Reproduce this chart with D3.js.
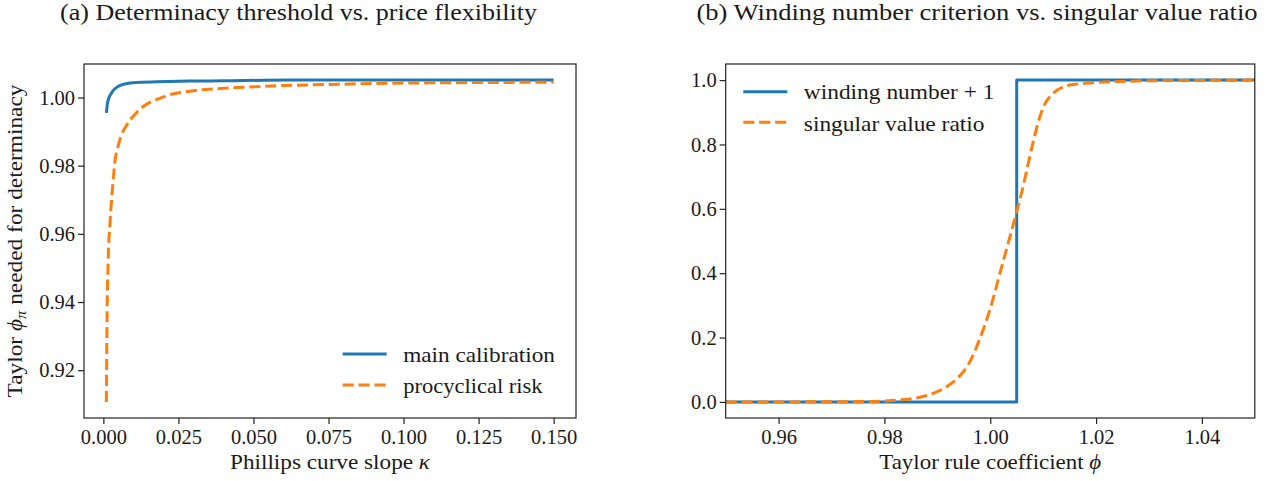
<!DOCTYPE html>
<html><head><meta charset="utf-8">
<script src="https://cdn.jsdelivr.net/npm/d3@7"></script>
<style>
body{margin:0;background:#fff}
svg{display:block}
</style>
</head><body>
<svg id="c" width="1275" height="481"></svg>
<script>
// ---------------- data ----------------
// Panel (a): determinacy threshold vs Phillips curve slope
const kappaMain = [0.001, 0.00135, 0.0018, 0.0023, 0.0033, 0.005, 0.0078, 0.0122, 0.0178, 0.029, 0.04, 0.062, 0.09, 0.12, 0.15];
const mainCalibration = [0.9955, 0.9982, 0.9998, 1.0007, 1.0021, 1.0033, 1.0041, 1.0045, 1.0046, 1.0048, 1.0049, 1.0051, 1.0051, 1.0051, 1.0051];
const kappaProc = [0.001, 0.0012, 0.0016, 0.0022, 0.0031, 0.0039, 0.005, 0.006, 0.0075, 0.009, 0.011, 0.0135, 0.016, 0.019, 0.022, 0.026, 0.03, 0.035, 0.045, 0.06, 0.075, 0.09, 0.11, 0.13, 0.15];
const procyclicalRisk = [0.9107, 0.933, 0.952, 0.963, 0.974, 0.9815, 0.986, 0.989, 0.9915, 0.9935, 0.9955, 0.9975, 0.9988, 0.9998, 1.0008, 1.0015, 1.0020, 1.0024, 1.0029, 1.0035, 1.0038, 1.0041, 1.0043, 1.0044, 1.0045];
const ticksAX = [0, 0.025, 0.05, 0.075, 0.1, 0.125, 0.15];
const ticksAY = [0.92, 0.94, 0.96, 0.98, 1.00];

// Panel (b): winding number criterion vs singular value ratio
const phiStep = [0.95, 1.005, 1.005, 1.05];
const windingPlusOne = [0, 0, 1, 1];
const phiGrid = [0.95, 0.96, 0.97, 0.975, 0.98, 0.983, 0.986, 0.988, 0.990, 0.992, 0.994, 0.996, 0.998, 1.000, 1.002, 1.004, 1.006, 1.008, 1.009, 1.010, 1.012, 1.014, 1.016, 1.018, 1.020, 1.025, 1.030, 1.040, 1.050];
const singularValueRatio = [0, 0, 0.0005, 0.001, 0.003, 0.006, 0.012, 0.02, 0.032, 0.05, 0.077, 0.12, 0.195, 0.29, 0.41, 0.53, 0.655, 0.8, 0.865, 0.915, 0.96, 0.98, 0.987, 0.99, 0.993, 0.996, 0.998, 0.999, 1.0];
const xlimB = [0.95, 1.05];
const ticksBX = [0.96, 0.98, 1.00, 1.02, 1.04];
const ticksBY = [0.0, 0.2, 0.4, 0.6, 0.8, 1.0];

const titles = ["(a) Determinacy threshold vs. price flexibility", "(b) Winding number criterion vs. singular value ratio"];
const legendA = ["main calibration", "procyclical risk"];
const legendB = ["winding number + 1", "singular value ratio"];

// ---------------- style ----------------
const BLUE = "#1f77b4", ORANGE = "#ff7f0e";
const DASH = "11.1,4.8";
const LW = 3;
const FONT = '"Liberation Serif", "Times New Roman", serif';
const INK = "#1a1a1a";

const svg = d3.select("#c").style("font-family", FONT);

function pad(ext) { const r = ext[1] - ext[0]; return [ext[0] - 0.05 * r, ext[1] + 0.05 * r]; }

function fitText(sel, w) { sel.attr("textLength", w).attr("lengthAdjust", "spacingAndGlyphs"); }

function txt(parent, size) {
  return parent.append("text").style("font-family", FONT).attr("font-size", size).attr("fill", INK);
}

function panel(box, xDom, yDom, xt, yt, xf, yf) {
  const x = d3.scaleLinear().domain(xDom).range([box.l, box.r]);
  const y = d3.scaleLinear().domain(yDom).range([box.b, box.t]);
  const g = svg.append("g");
  const ax = g.append("g").attr("transform", `translate(0,${box.b})`)
    .call(d3.axisBottom(x).tickValues(xt).tickFormat(xf).tickSize(6).tickPadding(5));
  const ay = g.append("g").attr("transform", `translate(${box.l},0)`)
    .call(d3.axisLeft(y).tickValues(yt).tickFormat(yf).tickSize(6).tickPadding(3));
  [ax, ay].forEach(a => {
    a.attr("font-family", null).attr("font-size", null);
    a.select(".domain").remove();
    a.selectAll(".tick line").attr("stroke", "#222").attr("stroke-width", 1.2);
    a.selectAll(".tick text").style("font-family", FONT).attr("font-size", 20.5).attr("fill", INK);
  });
  const clipId = "clip" + Math.round(box.l);
  svg.append("clipPath").attr("id", clipId).append("rect")
    .attr("x", box.l).attr("y", box.t).attr("width", box.r - box.l).attr("height", box.b - box.t);
  const plot = g.append("g").attr("clip-path", `url(#${clipId})`);
  g.append("rect").attr("x", box.l).attr("y", box.t).attr("width", box.r - box.l).attr("height", box.b - box.t)
    .attr("fill", "none").attr("stroke", "#222").attr("stroke-width", 1.2);
  return {x, y, g, plot};
}

function drawLine(plot, x, y, xs, ys, color, dash, curve) {
  const pts = xs.map((v, i) => [v, ys[i]]);
  plot.append("path").datum(pts)
    .attr("d", d3.line().x(d => x(d[0])).y(d => y(d[1])).curve(curve))
    .attr("fill", "none").attr("stroke", color).attr("stroke-width", LW)
    .attr("stroke-dasharray", dash).attr("stroke-linejoin", "round");
}

function legend(g, x0, entries) {
  entries.forEach(e => {
    g.append("line").attr("x1", x0).attr("x2", x0 + 44).attr("y1", e.ly).attr("y2", e.ly)
      .attr("stroke", e.color).attr("stroke-width", LW).attr("stroke-dasharray", e.dash);
    const t = txt(g, 21).attr("x", x0 + 60.5).attr("y", e.ty).text(e.label);
    fitText(t, e.w);
  });
}

// ---------------- panel (a) ----------------
const boxA = {l: 84, r: 576, t: 64, b: 418};
const pA = panel(boxA,
  pad(d3.extent(kappaMain.concat(kappaProc))),
  pad(d3.extent(mainCalibration.concat(procyclicalRisk))),
  ticksAX, ticksAY, d3.format(".3f"), d3.format(".2f"));
drawLine(pA.plot, pA.x, pA.y, kappaMain, mainCalibration, BLUE, null, d3.curveMonotoneX);
drawLine(pA.plot, pA.x, pA.y, kappaProc, procyclicalRisk, ORANGE, DASH, d3.curveMonotoneX);
legend(pA.g, 342.7, [
  {label: legendA[0], color: BLUE, dash: null, ly: 354, ty: 361.7, w: 151.7},
  {label: legendA[1], color: ORANGE, dash: DASH, ly: 385, ty: 393.3, w: 139.4}
]);
// axis labels
const xlA = txt(pA.g, 21).attr("x", (boxA.l + boxA.r) / 2).attr("y", 469.3).attr("text-anchor", "middle");
xlA.append("tspan").text("Phillips curve slope ");
xlA.append("tspan").attr("font-style", "italic").text("κ");
fitText(xlA, 200);
const ylA = txt(pA.g, 21).attr("transform", `translate(22,${(boxA.t + boxA.b) / 2}) rotate(-90)`)
  .attr("text-anchor", "middle");
ylA.append("tspan").text("Taylor ");
ylA.append("tspan").attr("font-style", "italic").text("ϕ");
ylA.append("tspan").attr("font-style", "italic").attr("font-size", 15).attr("dy", 4).text("π");
ylA.append("tspan").attr("dy", -4).text(" needed for determinacy");
fitText(ylA, 313);

// ---------------- panel (b) ----------------
const boxB = {l: 725.7, r: 1254.8, t: 64, b: 418};
const pB = panel(boxB, xlimB,
  pad(d3.extent(windingPlusOne.concat(singularValueRatio))),
  ticksBX, ticksBY, d3.format(".2f"), d3.format(".1f"));
drawLine(pB.plot, pB.x, pB.y, phiStep, windingPlusOne, BLUE, null, d3.curveLinear);
drawLine(pB.plot, pB.x, pB.y, phiGrid, singularValueRatio, ORANGE, DASH, d3.curveMonotoneX);
legend(pB.g, 743.3, [
  {label: legendB[0], color: BLUE, dash: null, ly: 91.7, ty: 99.3, w: 190.7},
  {label: legendB[1], color: ORANGE, dash: DASH, ly: 122.3, ty: 130.7, w: 180.7}
]);
const xlB = txt(pB.g, 21).attr("x", (boxB.l + boxB.r) / 2).attr("y", 469.3).attr("text-anchor", "middle");
xlB.append("tspan").text("Taylor rule coefficient ");
xlB.append("tspan").attr("font-style", "italic").text("ϕ");
fitText(xlB, 222);

// ---------------- titles ----------------
const tA = txt(svg, 24).attr("x", 298.5).attr("y", 20).attr("text-anchor", "middle").text(titles[0]);
fitText(tA, 477);
const tB = txt(svg, 24).attr("x", 977).attr("y", 20).attr("text-anchor", "middle").text(titles[1]);
fitText(tB, 561);
</script>
</body></html>
